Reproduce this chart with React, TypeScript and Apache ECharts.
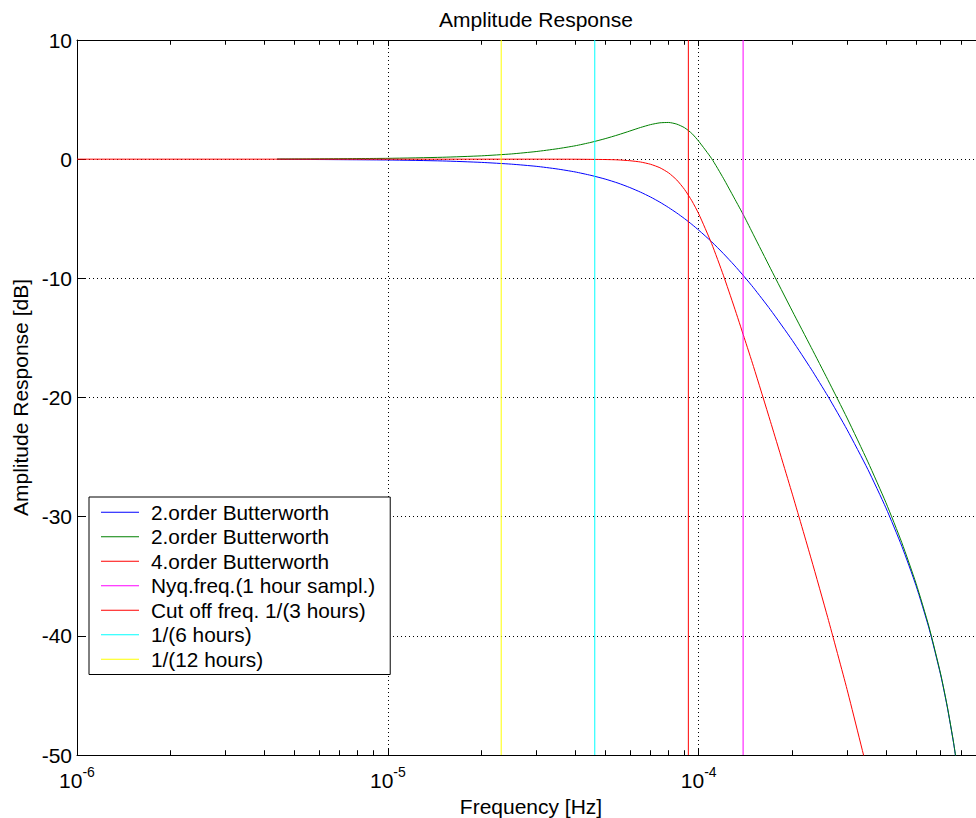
import React, { useEffect, useRef } from 'react';
import * as echarts from 'echarts';

const FONT = '"Liberation Sans", Arial, Helvetica, sans-serif';

// Axis ranges
const X_MIN = 1e-6;
const X_MAX = 8.333e-4;
const Y_MIN = -50;
const Y_MAX = 10;
const Y_STEP = 10;

// Minor (2..9 x 10^k) grid positions
const MINOR_TICKS = [
  2e-6, 3e-6, 4e-6, 5e-6, 6e-6, 7e-6, 8e-6, 9e-6,
  2e-5, 3e-5, 4e-5, 5e-5, 6e-5, 7e-5, 8e-5, 9e-5,
  2e-4, 3e-4, 4e-4, 5e-4, 6e-4, 7e-4, 8e-4,
];

// 2nd-order filters (frequency [Hz])
const FREQ_2ND = [
  4.4e-6, 1e-5, 1.5e-5, 2e-5, 2.5e-5, 3e-5, 3.5e-5, 4e-5, 4.5e-5, 5e-5,
  5.5e-5, 6e-5, 6.5e-5, 7e-5, 7.5e-5, 8e-5, 8.5e-5, 9e-5, 9.5e-5, 1e-4,
  1.1e-4, 1.2e-4, 1.3e-4, 1.4e-4, 1.5e-4, 1.7e-4, 2e-4, 2.3e-4, 2.6e-4, 3e-4,
  3.5e-4, 4e-4, 4.5e-4, 5e-4, 5.5e-4, 6e-4, 6.3e-4, 6.6e-4, 6.8e-4,
];
const BLUE_DB = [
  -0.01, -0.07, -0.15, -0.27, -0.42, -0.6, -0.82, -1.07, -1.36, -1.67,
  -2.01, -2.38, -2.77, -3.18, -3.61, -4.06, -4.52, -4.99, -5.47, -5.96,
  -6.93, -7.92, -8.89, -9.85, -10.79, -12.63, -15.21, -17.62, -19.87, -22.7,
  -26.04, -29.26, -32.48, -35.79, -39.34, -43.28, -45.96, -48.97, -51.23,
];
const GREEN_DB = [
  0.01, 0.07, 0.16, 0.28, 0.44, 0.64, 0.87, 1.12, 1.41, 1.72,
  2.04, 2.36, 2.66, 2.9, 3.05, 3.08, 2.94, 2.64, 2.16, 1.5,
  0.05, -1.6, -3.25, -4.8, -6.35, -9.15, -12.75, -15.8, -18.5, -21.72,
  -25.4, -28.82, -32.18, -35.6, -39.21, -43.2, -45.9, -48.92, -51.2,
];

// 4th-order filter
const FREQ_4TH = [
  1e-6, 1e-5, 2e-5, 3e-5, 4e-5, 5e-5, 5.5e-5, 6e-5, 6.5e-5, 7e-5,
  7.5e-5, 8e-5, 8.5e-5, 9e-5, 9.5e-5, 1e-4, 1.1e-4, 1.2e-4, 1.3e-4, 1.4e-4,
  1.5e-4, 1.7e-4, 2e-4, 2.3e-4, 2.6e-4, 3e-4, 3.5e-4,
];
const RED_DB = [
  0, 0, 0, 0, -0.005, -0.03, -0.06, -0.13, -0.24, -0.43,
  -0.72, -1.15, -1.75, -2.54, -3.49, -4.59, -7.08, -9.74, -12.4, -14.97,
  -17.4, -22.0, -28.11, -33.54, -38.47, -44.5, -51.47,
];

// Reference frequencies
const F_NYQ = 1.3889e-4; // 1/(2 hours)
const F_CUT = 9.2593e-5; // 1/(3 hours)
const F_6H = 4.6296e-5; // 1/(6 hours)
const F_12H = 2.3148e-5; // 1/(12 hours)

const NAMES = [
  '2.order Butterworth',
  '2.order Butterworth ',
  '4.order Butterworth',
  'Nyq.freq.(1 hour sampl.)',
  'Cut off freq. 1/(3 hours)',
  '1/(6 hours)',
  '1/(12 hours)',
];
const COLORS = ['#0000ff', '#008000', '#ff0000', '#ff00ff', '#ff0000', '#00ffff', '#ffff00'];

function zip(xs: number[], ys: number[]) {
  return xs.map((x, i) => [x, ys[i]]);
}

function vline(f: number) {
  return [
    [f, Y_MIN],
    [f, Y_MAX],
  ];
}

function buildOption() {
  const curveData = [
    zip(FREQ_2ND, BLUE_DB),
    zip(FREQ_2ND, GREEN_DB),
    zip(FREQ_4TH, RED_DB),
    vline(F_NYQ),
    vline(F_CUT),
    vline(F_6H),
    vline(F_12H),
  ];
  const series: any[] = curveData.map((d, i) => ({
    name: NAMES[i],
    type: 'line',
    data: d,
    showSymbol: false,
    symbol: 'none',
    smooth: i < 3 ? 0.2 : false,
    color: COLORS[i],
    itemStyle: { color: COLORS[i] },
    lineStyle: { color: COLORS[i], width: 1 },
    clip: true,
    silent: true,
    z: 3,
  }));

  const minorTickLen = 0.4;
  series.unshift({
    name: '__grid',
    type: 'line',
    data: [],
    silent: true,
    z: 1,
    markLine: {
      silent: true,
      symbol: ['none', 'none'],
      label: { show: false },
      animation: false,
      lineStyle: { color: '#222', width: 1, type: [1, 3] },
      data: MINOR_TICKS.map((v) => ({ xAxis: v })),
    },
  });
  series.unshift({
    name: '__ticks',
    type: 'line',
    data: [],
    silent: true,
    z: 4,
    markLine: {
      silent: true,
      symbol: ['none', 'none'],
      label: { show: false },
      animation: false,
      lineStyle: { color: '#000', width: 1, type: 'solid' },
      data: [
        ...MINOR_TICKS.map((v) => [{ coord: [v, Y_MIN] }, { coord: [v, Y_MIN + minorTickLen] }]),
        ...MINOR_TICKS.map((v) => [{ coord: [v, Y_MAX] }, { coord: [v, Y_MAX - minorTickLen] }]),
      ],
    },
  });

  const labelFormatter = (v: number) => {
    const e = Math.log10(v);
    const r = Math.round(e);
    if (Math.abs(e - r) > 1e-6) return '';
    return `{b|10}{s|${r}}`;
  };

  return {
    animation: false,
    backgroundColor: '#fff',
    title: {
      text: 'Amplitude Response',
      left: 531,
      textAlign: 'center',
      top: 4,
      textStyle: { fontFamily: FONT, fontSize: 21, fontWeight: 'normal', color: '#000' },
    },
    legend: {
      data: NAMES,
      orient: 'vertical',
      left: 89,
      top: 497,
      icon: 'rect',
      itemWidth: 38,
      itemHeight: 1,
      itemGap: 0,
      padding: [3, 15, 3, 12],
      borderColor: '#000',
      borderWidth: 1,
      borderRadius: 0,
      backgroundColor: '#fff',
      selectedMode: false,
      textStyle: { fontFamily: FONT, fontSize: 20.8, color: '#000', lineHeight: 24.5, padding: [0, 0, 0, 7] },
      z: 10,
    },
    grid: { left: 77, right: -9, top: 40, bottom: 63, containLabel: false, outerBoundsMode: 'none' },
    xAxis: [
      {
        type: 'log',
        logBase: 10,
        min: X_MIN,
        max: X_MAX,
        interval: 1,
        name: 'Frequency [Hz]',
        nameLocation: 'middle',
        nameGap: 34,
        nameTextStyle: { fontFamily: FONT, fontSize: 21, color: '#000' },
        axisLine: { show: true, onZero: false, lineStyle: { color: '#000', width: 1 } },
        axisTick: { show: true, inside: true, length: 6, lineStyle: { color: '#000' } },
        minorTick: { show: false },
        axisLabel: {
          formatter: labelFormatter,
          margin: 6,
          showMaxLabel: false,
          rich: {
            b: { fontFamily: FONT, fontSize: 21, color: '#000', lineHeight: 30, verticalAlign: 'bottom' },
            s: { fontFamily: FONT, fontSize: 14, color: '#000', lineHeight: 30, verticalAlign: 'bottom', padding: [0, 0, 12, 0] },
          },
        },
        splitLine: { show: true, lineStyle: { color: '#000', width: 1, type: [1, 3] } },
      },
      {
        type: 'log',
        logBase: 10,
        min: X_MIN,
        max: X_MAX,
        interval: 1,
        position: 'top',
        axisLine: { show: true, onZero: false, lineStyle: { color: '#000', width: 1 } },
        axisTick: { show: true, inside: true, length: 6, lineStyle: { color: '#000' } },
        axisLabel: { show: false },
        splitLine: { show: false },
      },
    ],
    yAxis: {
      type: 'value',
      min: Y_MIN,
      max: Y_MAX,
      interval: Y_STEP,
      name: 'Amplitude Response [dB]',
      nameLocation: 'middle',
      nameGap: 38,
      nameTextStyle: { fontFamily: FONT, fontSize: 21, color: '#000' },
      axisLine: { show: true, onZero: false, lineStyle: { color: '#000', width: 1 } },
      axisTick: { show: true, inside: true, length: 8, lineStyle: { color: '#000' } },
      axisLabel: { fontFamily: FONT, fontSize: 21, color: '#000', margin: 5 },
      splitLine: { show: true, lineStyle: { color: '#000', width: 1, type: [1, 3] } },
    },
    series,
  };
}

export default function App() {
  const ref = useRef<HTMLDivElement>(null);
  useEffect(() => {
    document.body.style.margin = '0';
    const chart = echarts.init(ref.current!, null, { renderer: 'svg' });
    chart.setOption(buildOption() as any);
    return () => chart.dispose();
  }, []);
  return <div ref={ref} style={{ width: 976, height: 818 }} />;
}
